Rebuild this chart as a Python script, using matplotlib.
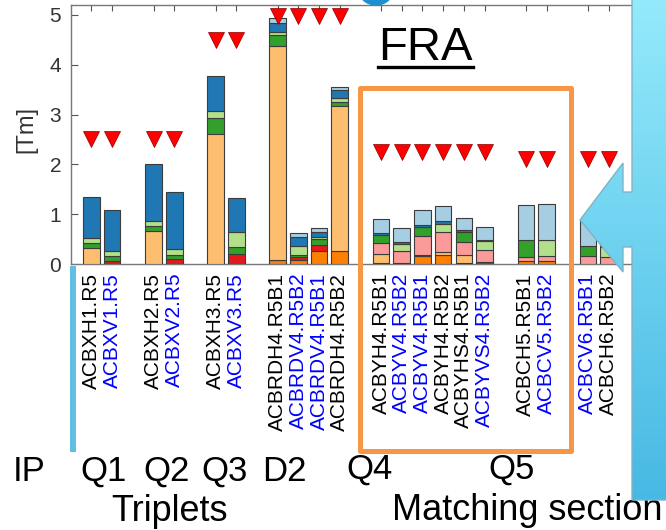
import numpy as np
import matplotlib.pyplot as plt
from matplotlib.patches import Rectangle, Ellipse, PathPatch
from matplotlib.path import Path
from matplotlib.colors import LinearSegmentedColormap

plt.rcParams['font.family'] = ['Liberation Sans', 'DejaVu Sans']

# corrector names, grouped by magnet
names = ['ACBXH1.R5', 'ACBXV1.R5', 'ACBXH2.R5', 'ACBXV2.R5', 'ACBXH3.R5', 'ACBXV3.R5',
         'ACBRDH4.R5B1', 'ACBRDV4.R5B2', 'ACBRDV4.R5B1', 'ACBRDH4.R5B2',
         'ACBYH4.R5B1', 'ACBYV4.R5B2', 'ACBYV4.R5B1', 'ACBYH4.R5B2', 'ACBYHS4.R5B1', 'ACBYVS4.R5B2',
         'ACBCH5.R5B1', 'ACBCV5.R5B2', 'ACBCV6.R5B1', 'ACBCH6.R5B2']
vertical = [0, 1, 0, 1, 0, 1, 0, 1, 1, 0, 0, 1, 1, 0, 0, 1, 0, 1, 1, 0]
group_sizes = [2, 2, 2, 4, 6, 2, 2]

# stacked contributions [Tm], bottom to top
orange = [0, 0, 0, 0, 0, 0, 0.09, 0.09, 0.26, 0.27, 0.02, 0, 0.17, 0.18, 0.03, 0, 0.07, 0.07, 0, 0]
light_orange = [0.32, 0, 0.66, 0, 2.62, 0, 4.29, 0, 0, 2.91, 0.18, 0, 0.02, 0.06, 0.16, 0, 0, 0, 0, 0]
red = [0, 0.07, 0, 0.10, 0, 0.20, 0, 0.05, 0.13, 0, 0, 0.03, 0, 0, 0, 0.04, 0, 0, 0, 0]
pink = [0, 0, 0, 0, 0, 0, 0, 0, 0, 0, 0.22, 0.23, 0.37, 0.40, 0.25, 0.25, 0.08, 0.09, 0.17, 0.15]
green = [0.10, 0.09, 0.11, 0.09, 0.32, 0.14, 0.22, 0.05, 0.11, 0.07, 0.16, 0, 0.18, 0, 0.21, 0, 0.33, 0, 0.19, 0]
light_green = [0.10, 0.10, 0.09, 0.11, 0.14, 0.30, 0.06, 0.18, 0.05, 0.08, 0, 0.15, 0, 0.16, 0, 0.18, 0, 0.33, 0, 0.20]
dark_blue = [0.83, 0.82, 1.15, 1.14, 0.69, 0.68, 0.18, 0.18, 0.10, 0.17, 0.04, 0.03, 0.05, 0.07, 0.03, 0.02, 0, 0, 0, 0]
light_blue = [0, 0, 0, 0, 0, 0, 0.10, 0.08, 0.07, 0.05, 0.28, 0.28, 0.29, 0.29, 0.24, 0.25, 0.70, 0.72, 0.53, 0.50]

# strength limits (triangles)
limits = [2.5, 2.5, 2.5, 2.5, 4.5, 4.5, 4.97, 4.97, 4.97, 4.97,
          2.25, 2.25, 2.25, 2.25, 2.25, 2.25, 2.1, 2.1, 2.1, 2.1]

series = [orange, light_orange, red, pink, green, light_green, dark_blue, light_blue]
colors = ['#ff7f00', '#fdbf6f', '#e31a1c', '#fb9a99', '#33a02c', '#b2df8a', '#1f78b4', '#a6cee3']

# x positions: one empty slot between groups
pos = []
x = 1
for g in group_sizes:
    for i in range(g):
        pos.append(x)
        x += 1
    x += 1
pos = np.array(pos)

fig = plt.figure(figsize=(6.66, 5.30), dpi=100)
ax = fig.add_axes([70.8 / 666, 265.5 / 530, (650 - 70.8) / 666, 260 / 530])

bottom = np.zeros(len(names))
for vals, c in zip(series, colors):
    vals = np.array(vals)
    m = vals > 0
    ax.bar(pos[m], vals[m], 0.8, bottom=bottom[m], color=c, edgecolor='#3c3c3c', linewidth=0.8, zorder=3)
    bottom += vals

ax.plot(pos, limits, 'v', color='#ff0000', markeredgecolor='#8a0000', markeredgewidth=0.5, ms=11, zorder=4, clip_on=False)

ax.set_xlim(0, 28)
ax.set_ylim(0, 5.2)
ax.set_yticks(range(6))
ax.set_xticks(pos)
ax.set_xticklabels(names, rotation=90, fontsize=15)
for lab, v in zip(ax.get_xticklabels(), vertical):
    lab.set_color('#0000ff' if v else '#000000')
ax.tick_params(axis='x', direction='in', top=True, length=4, color='#555555', pad=6)
ax.tick_params(axis='y', direction='in', length=5, labelsize=15, labelcolor='#333333', color='#555555', pad=7)
ax.set_ylabel('[Tm]', fontsize=17, color='#333333')
ax.yaxis.set_label_coords(-0.058, 0.52)
for s in ax.spines.values():
    s.set_color('#777777')
    s.set_linewidth(1)

# slide annotations on top, in pixel coordinates
ov = fig.add_axes([0, 0, 1, 1])
ov.axis('off')
ov.patch.set_alpha(0)

ov.text(425, 60, 'FRA', fontsize=34, ha='center', va='baseline')
ov.plot([378, 473], [66.5, 66.5], color='black', lw=2.4)
for t, xx in [('IP', 29), ('Q1', 103.5), ('Q2', 166.5), ('Q3', 225), ('D2', 284.5)]:
    ov.text(xx, 481, t, fontsize=25, ha='center', va='baseline')
ov.text(369, 479, 'Q4', fontsize=25, ha='center', va='baseline')
ov.text(512, 479, 'Q5', fontsize=25, ha='center', va='baseline')
ov.text(170, 521, 'Triplets', fontsize=26, ha='center', va='baseline')
ov.text(392, 520, 'Matching section', fontsize=26, ha='left', va='baseline', zorder=2)
ov.text(662, 138, 'I', fontsize=25, color='#1f5f8b', ha='left', va='center', zorder=2)

ov.plot([73, 73], [266, 452], color='#62bfdf', lw=4.3, solid_capstyle='butt')
ov.add_patch(Rectangle((359.5, 87.5), 211, 363, fill=False, edgecolor='#f79646', lw=3.6, joinstyle='round'))
ov.add_patch(Ellipse((376, -12), 36, 34, color='#1e90cf', clip_on=False))

verts = [(632, -2), (670, -2), (670, 500), (632, 500), (632, 247), (623, 247), (623, 272),
         (580, 220), (623, 163), (623, 192), (632, 192), (632, -2)]
shape = Path(verts, closed=True)
ov.add_patch(PathPatch(shape, facecolor='none', edgecolor='#7fb3c8', lw=1, zorder=6))
grad = np.linspace(0, 1, 256).reshape(-1, 1)
cmap = LinearSegmentedColormap.from_list('slide', ['#94eafb', '#47b9e4'])
im = ov.imshow(grad, cmap=cmap, extent=(575, 670, 502, -2), aspect='auto', zorder=5)
im.set_clip_path(PathPatch(shape, transform=ov.transData))
ov.set_xlim(0, 666)
ov.set_ylim(530, 0)

fig.savefig('out.png', dpi=100)
